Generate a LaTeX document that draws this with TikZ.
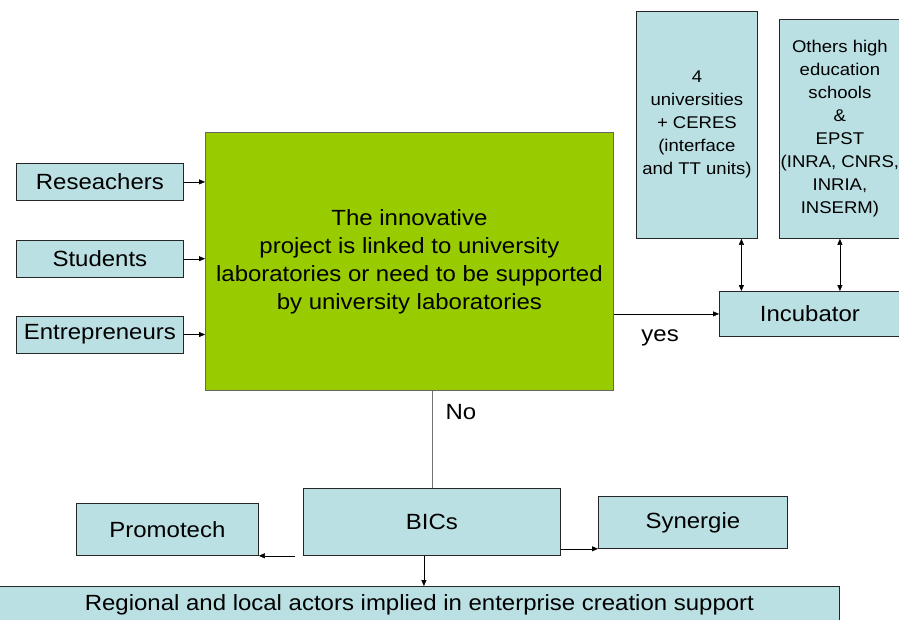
\documentclass[tikz,border=0pt]{standalone}
\usepackage{fontspec}
\setmainfont{Liberation Sans}[FakeStretch=1.09]
\usepackage{xcolor}
\usetikzlibrary{arrows.meta,positioning}
\definecolor{boxblue}{HTML}{BBE0E3}
\definecolor{boxgreen}{HTML}{99CC00}

\begin{document}
\begin{tikzpicture}[
  x=1pt,y=-1pt,
  node distance=39pt,
  box/.style={draw=black!85,fill=boxblue,line width=0.8pt,align=center,inner sep=0pt,
    font=\fontsize{22}{28}\selectfont},
  tallbox/.style={box,anchor=north west,font=\fontsize{17}{23}\selectfont},
  projbox/.style={box,fill=boxgreen,draw=black!60},
  lbl/.style={text=black,font=\fontsize{22}{26}\selectfont},
  >={Triangle[length=6pt,width=5pt]}
]
\useasboundingbox (0,0) rectangle (899,619);
% actors on the left
\node[box,minimum width=167pt,minimum height=37pt,anchor=north west] (res) at (16,163) {Reseachers};
\node[box,minimum width=167pt,minimum height=37pt,below=of res] (stud) {Students};
\node[box,minimum width=167pt,minimum height=37pt,below=38pt of stud] (entr) {Entrepreneurs};
% the project
\node[projbox,minimum width=408pt,minimum height=258pt,anchor=north west] (proj) at (205,132)
  {The innovative\\project is linked to university\\laboratories or need to be supported\\by university laboratories};
% university side
\node[tallbox,minimum width=121pt,minimum height=227pt] (univ) at (636,11)
  {4\\universities\\+ CERES\\(interface\\and TT units)};
\node[tallbox,minimum width=121pt,minimum height=219pt] (high) at (779,19)
  {Others high\\education\\schools\\\&\\EPST\\(INRA, CNRS,\\INRIA,\\INSERM)};
\node[box,minimum width=181pt,minimum height=45pt,anchor=north west] (incub) at (719,291) {Incubator};
% regional support
\node[box,minimum width=257pt,minimum height=67pt,anchor=north west] (bics) at (303,488) {BICs};
\node[box,minimum width=182pt,minimum height=52pt,anchor=north west] (promo) at (76,503) {Promotech};
\node[box,minimum width=840pt,minimum height=36pt,anchor=north west] (reg) at (-1,586)
  {Regional and local actors implied in enterprise creation support};
\node[box,minimum width=189pt,minimum height=52pt,anchor=north west] (syn) at (598,496) {Synergie};
% connectors
\draw[->] (res.east) -- (res.east -| proj.west);
\draw[->] (stud.east) -- (stud.east -| proj.west);
\draw[->] (entr.east) -- (entr.east -| proj.west);
\draw[->] (proj.east |- incub.west) -- node[lbl,below=12pt,pos=0.44]{yes} (incub.west);
\draw[<->] ([xshift=44.5pt]univ.south) -- ([xshift=44.5pt]univ.south |- incub.north);
\draw[<->] (high.south) -- (high.south |- incub.north);
\draw[black!55,line width=0.8pt] (bics.north |- proj.south) -- node[lbl,right=10pt,pos=0.22]{No} (bics.north);
\draw[->] ([xshift=-8pt]bics.south west) -- (promo.south east);
\draw[->] (bics.east |- syn.south west) -- (syn.south west);
\draw[->] ([xshift=-8pt]bics.south) -- ([xshift=-8pt]bics.south |- reg.north);
\end{tikzpicture}
\end{document}
